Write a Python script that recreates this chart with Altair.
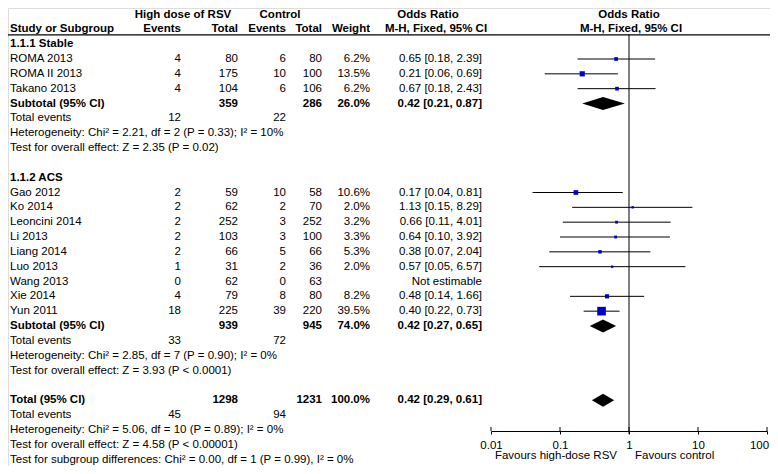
import altair as alt
import pandas as pd

# ---------------- data ----------------
study_names = ["ROMA 2013", "ROMA II 2013", "Takano 2013",
               "Gao 2012", "Ko 2014", "Leoncini 2014", "Li 2013", "Liang 2014",
               "Luo 2013", "Wang 2013", "Xie 2014", "Yun 2011"]
study_rows = [3, 4, 5, 12, 13, 14, 15, 16, 17, 18, 19, 20]
events_high = [4, 4, 4, 2, 2, 2, 2, 2, 1, 0, 4, 18]
total_high = [80, 175, 104, 59, 62, 252, 103, 66, 31, 62, 79, 225]
events_ctl = [6, 10, 6, 10, 2, 3, 3, 5, 2, 0, 8, 39]
total_ctl = [80, 100, 106, 58, 70, 252, 100, 66, 36, 63, 80, 220]
weights = [6.2, 13.5, 6.2, 10.6, 2.0, 3.2, 3.3, 5.3, 2.0, None, 8.2, 39.5]
or_est = [0.65, 0.21, 0.67, 0.17, 1.13, 0.66, 0.64, 0.38, 0.57, None, 0.48, 0.40]
or_lo = [0.18, 0.06, 0.18, 0.04, 0.15, 0.11, 0.10, 0.07, 0.05, None, 0.14, 0.22]
or_hi = [2.39, 0.69, 2.43, 0.81, 8.29, 4.01, 3.92, 2.04, 6.57, None, 1.66, 0.73]

group_titles = ["1.1.1 Stable", "1.1.2 ACS"]
group_rows = [2, 11]

pooled_labels = ["Subtotal (95% CI)", "Subtotal (95% CI)", "Total (95% CI)"]
pooled_rows = [6, 21, 26]
pooled_total_high = [359, 939, 1298]
pooled_total_ctl = [286, 945, 1231]
pooled_weight = [26.0, 74.0, 100.0]
pooled_est = [0.42, 0.42, 0.42]
pooled_lo = [0.21, 0.27, 0.29]
pooled_hi = [0.87, 0.65, 0.61]

tot_ev_rows = [7, 22, 27]
tot_ev_high = [12, 33, 45]
tot_ev_ctl = [22, 72, 94]

stat_rows = [8, 9, 23, 24, 28, 29, 30]
stat_texts = [
    "Heterogeneity: Chi\u00b2 = 2.21, df = 2 (P = 0.33); I\u00b2 = 10%",
    "Test for overall effect: Z = 2.35 (P = 0.02)",
    "Heterogeneity: Chi\u00b2 = 2.85, df = 7 (P = 0.90); I\u00b2 = 0%",
    "Test for overall effect: Z = 3.93 (P < 0.0001)",
    "Heterogeneity: Chi\u00b2 = 5.06, df = 10 (P = 0.89); I\u00b2 = 0%",
    "Test for overall effect: Z = 4.58 (P < 0.00001)",
    "Test for subgroup differences: Chi\u00b2 = 0.00, df = 1 (P = 0.99), I\u00b2 = 0%",
]

tick_values = [0.01, 0.1, 1, 10, 100]
favour_labels = ["Favours high-dose RSV", "Favours control"]

# ---------------- tables ----------------
def fmt_ci(e, l, h):
    if e is None:
        return "Not estimable"
    return f"{e:.2f} [{l:.2f}, {h:.2f}]"

studies = pd.DataFrame({
    "row": study_rows,
    "name": study_names,
    "eh": [str(v) for v in events_high],
    "th": [str(v) for v in total_high],
    "ec": [str(v) for v in events_ctl],
    "tc": [str(v) for v in total_ctl],
    "w": ["" if w is None else f"{w:.1f}%" for w in weights],
    "wt": weights,
    "ci": [fmt_ci(e, l, h) for e, l, h in zip(or_est, or_lo, or_hi)],
    "est": or_est, "lo": or_lo, "hi": or_hi,
})
est_df = studies.dropna(subset=["est"])

pooled = pd.DataFrame({
    "row": pooled_rows,
    "name": pooled_labels,
    "th": [str(v) for v in pooled_total_high],
    "tc": [str(v) for v in pooled_total_ctl],
    "w": [f"{w:.1f}%" for w in pooled_weight],
    "ci": [fmt_ci(e, l, h) for e, l, h in zip(pooled_est, pooled_lo, pooled_hi)],
})

totev = pd.DataFrame({
    "row": tot_ev_rows,
    "name": ["Total events"] * len(tot_ev_rows),
    "eh": [str(v) for v in tot_ev_high],
    "ec": [str(v) for v in tot_ev_ctl],
})

stats = pd.DataFrame({"row": stat_rows, "name": stat_texts})
groups = pd.DataFrame({"row": group_rows, "name": group_titles})

# diamond outlines (derived from pooled estimates)
HALF = 0.44
dia_rows = []
for i, (r, e, l, h) in enumerate(zip(pooled_rows, pooled_est, pooled_lo, pooled_hi)):
    dia_rows.append({"id": i, "x": l, "y1": r, "y2": r})
    dia_rows.append({"id": i, "x": e, "y1": r - HALF, "y2": r + HALF})
    dia_rows.append({"id": i, "x": h, "y1": r, "y2": r})
diamonds = pd.DataFrame(dia_rows)

# ---------------- layout ----------------
W, H = 762, 458
M = 8  # page margin
FONT = "Arial, Liberation Sans, Helvetica, sans-serif"
FS = 11.5
TXT = "#000000"

ROW0, STEP = 14.5 - M, (459.5 - 14.5) / 30
yscale = alt.Scale(domain=[0, 30], range=[ROW0, ROW0 + 30 * STEP])
xscale = alt.Scale(type="log", domain=[0.01, 100], range=[491 - M, 767 - M])
AXIS_Y = 431 - M
xaxis = alt.Axis(values=tick_values, format="~g", title=None, grid=False,
                 offset=AXIS_Y - H, tickSize=3, labelPadding=5,
                 domainColor="#000", tickColor="#000", labelColor=TXT,
                 labelFont=FONT, labelFontSize=FS, labelFlush=False,
                 labelOverlap=False,
                 labelOffset={"condition": {"test": "datum.value >= 100", "value": -8},
                              "value": 0})

Y = alt.Y("row:Q", scale=yscale, axis=None)


def txt(data, field, x, align="right", bold=False):
    return alt.Chart(data).mark_text(
        align=align, baseline="middle", font=FONT, fontSize=FS,
        fontWeight="bold" if bold else "normal", color=TXT,
    ).encode(x=alt.value(x - M), y=Y, text=alt.Text(f"{field}:N"))


layers = []

# header rows
hdr_top = pd.DataFrame({"row": [0]})
for label, x in zip(["High dose of RSV", "Control", "Odds Ratio", "Odds Ratio"],
                    [183, 280, 428, 629]):
    layers.append(alt.Chart(hdr_top).mark_text(
        align="center", baseline="middle", font=FONT, fontSize=FS,
        fontWeight="bold", color=TXT).encode(
        x=alt.value(x - M), y=Y, text=alt.value(label)))
hdr2 = pd.DataFrame({"row": [1]})
for label, x, al in zip(["Study or Subgroup", "Events", "Total", "Events", "Total",
                         "Weight", "M-H, Fixed, 95% CI", "M-H, Fixed, 95% CI"],
                        [10, 181, 238, 286, 322, 370, 436, 631],
                        ["left", "right", "right", "right", "right", "right",
                         "center", "center"]):
    layers.append(alt.Chart(hdr2).mark_text(
        align=al, baseline="middle", font=FONT, fontSize=FS,
        fontWeight="bold", color=TXT).encode(
        x=alt.value(x - M), y=Y, text=alt.value(label)))

# header rule
HLINE = 1.37
layers.append(alt.Chart(pd.DataFrame({"row": [HLINE]})).mark_rule(
    color="#000", strokeWidth=1.2).encode(
    x=alt.value(0), x2=alt.value(W), y=Y))

# group titles
layers.append(txt(groups, "name", 10, "left", True))

# study rows
layers += [
    txt(studies, "name", 10, "left"),
    txt(studies, "eh", 181), txt(studies, "th", 238),
    txt(studies, "ec", 286), txt(studies, "tc", 322),
    txt(studies, "w", 370), txt(studies, "ci", 482),
]

# pooled rows (bold)
layers += [
    txt(pooled, "name", 10, "left", True),
    txt(pooled, "th", 238, bold=True), txt(pooled, "tc", 322, bold=True),
    txt(pooled, "w", 370, bold=True), txt(pooled, "ci", 482, bold=True),
]

# total events
layers += [txt(totev, "name", 10, "left"), txt(totev, "eh", 181), txt(totev, "ec", 286)]

# statistics lines
layers.append(txt(stats, "name", 10, "left"))

# line of no effect
layers.append(alt.Chart(pd.DataFrame({"x": [1.0]})).mark_rule(
    color="#000", strokeWidth=1).encode(
    x=alt.X("x:Q", scale=xscale, axis=xaxis),
    y=alt.value(ROW0 + HLINE * STEP), y2=alt.value(AXIS_Y + 3)))

# upward half of axis ticks
layers.append(alt.Chart(pd.DataFrame({"x": tick_values})).mark_rule(
    color="#000", strokeWidth=1).encode(
    x=alt.X("x:Q", scale=xscale, axis=xaxis),
    y=alt.value(AXIS_Y - 4), y2=alt.value(AXIS_Y)))

# CI whiskers
layers.append(alt.Chart(est_df).mark_rule(color="#000", strokeWidth=1).encode(
    x=alt.X("lo:Q", scale=xscale, axis=xaxis), x2="hi:Q", y=Y))

# squares
layers.append(alt.Chart(est_df).mark_square(filled=True, color="#0000C8", opacity=1).encode(
    x=alt.X("est:Q", scale=xscale, axis=xaxis), y=Y,
    size=alt.Size("wt:Q", scale=alt.Scale(domain=[0, 40], range=[2, 76]), legend=None)))

# diamonds
layers.append(alt.Chart(diamonds).mark_area(color="#000", opacity=1).encode(
    x=alt.X("x:Q", scale=xscale, axis=xaxis),
    y=alt.Y("y1:Q", scale=yscale, axis=None), y2="y2:Q",
    detail="id:N"))

# favours labels
fav = pd.DataFrame({"x": [1.0, 1.0], "t": favour_labels})
layers.append(alt.Chart(fav).transform_filter(alt.datum.t == favour_labels[0]).mark_text(
    align="right", baseline="middle", font=FONT, fontSize=FS, color=TXT, dx=-12).encode(
    x=alt.X("x:Q", scale=xscale, axis=xaxis), y=alt.value(456 - M), text="t:N"))
layers.append(alt.Chart(fav).transform_filter(alt.datum.t == favour_labels[1]).mark_text(
    align="left", baseline="middle", font=FONT, fontSize=FS, color=TXT, dx=6).encode(
    x=alt.X("x:Q", scale=xscale, axis=xaxis), y=alt.value(456 - M), text="t:N"))

chart = alt.layer(*layers).properties(
    width=W, height=H, padding=0,
    autosize=alt.AutoSizeParams(type="none"),
).configure_view(stroke=None).configure(background="white")

chart.save("out.html", embed_options={"renderer": "svg", "actions": False})
